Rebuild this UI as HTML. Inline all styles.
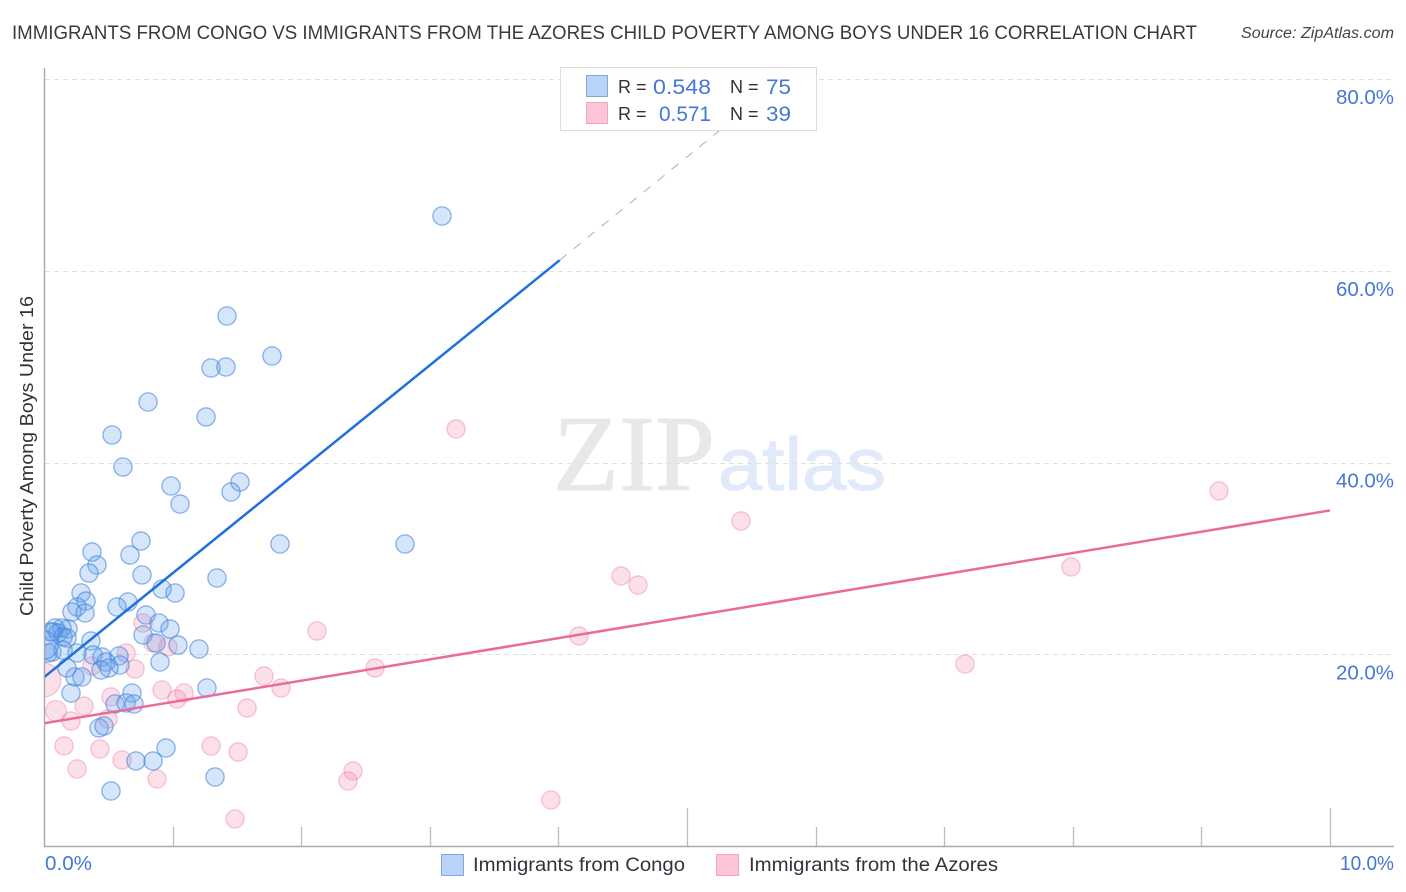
<!DOCTYPE html>
<html>
<head>
<meta charset="utf-8">
<title>Immigrants from Congo vs Immigrants from the Azores Child Poverty Correlation Chart</title>
<style>
html,body{margin:0;padding:0;background:#fff;width:1406px;height:892px;overflow:hidden}
svg{display:block}
text{font-family:"Liberation Sans",sans-serif}
</style>
</head>
<body>
<svg id="chart" xmlns="http://www.w3.org/2000/svg" width="1406" height="892" viewBox="0 0 1406 892">
  <defs>
    <clipPath id="plot-clip"><rect x="45" y="60" width="1349" height="786"/></clipPath>
  </defs>
  <rect width="1406" height="892" fill="#fff"/>
  <text x="12" y="39" font-size="19" fill="#3a3a3a" textLength="1185" lengthAdjust="spacingAndGlyphs">IMMIGRANTS FROM CONGO VS IMMIGRANTS FROM THE AZORES CHILD POVERTY AMONG BOYS UNDER 16 CORRELATION CHART</text>
  <text x="1241" y="38" font-size="15.5" font-style="italic" fill="#444" textLength="153" lengthAdjust="spacingAndGlyphs">Source: ZipAtlas.com</text>

  <g>
    <text x="553" y="490" font-size="108" fill="#e8e8e8" stroke="#e8e8e8" stroke-width="1" style="font-family:'Liberation Serif',serif" textLength="162" lengthAdjust="spacingAndGlyphs">ZIP</text>
    <text x="718" y="490" font-size="74" fill="#e1eafa" stroke="#e1eafa" stroke-width="1" textLength="168" lengthAdjust="spacingAndGlyphs">atlas</text>
  </g>

  <g id="grid"></g>
  <g id="ticks"></g>
  <line x1="44.5" y1="68" x2="44.5" y2="847" stroke="#aaa" stroke-width="1.5"/>
  <line x1="44" y1="846.5" x2="1394" y2="846.5" stroke="#aaa" stroke-width="1.5"/>

  <g id="points" clip-path="url(#plot-clip)"></g>
  <g id="trends" clip-path="url(#plot-clip)"></g>
  <g id="labels"></g>

  <text transform="translate(33,456) rotate(-90)" text-anchor="middle" font-size="18" fill="#333" textLength="320" lengthAdjust="spacingAndGlyphs">Child Poverty Among Boys Under 16</text>

  <g>
    <rect x="560.5" y="67.5" width="256" height="63" fill="#fff" fill-opacity="0.92" stroke="#ddd" stroke-width="1"/>
    <rect x="586.5" y="75.5" width="21" height="21" fill="#b9d4f8" stroke="#7fa8dc"/>
    <rect x="586.5" y="102.5" width="21" height="21" fill="#fcc5d8" stroke="#f2a3bd"/>
    <text x="618" y="93" font-size="18" fill="#333">R =</text>
    <text x="653" y="94" font-size="21" fill="#4478d4" textLength="58" lengthAdjust="spacingAndGlyphs">0.548</text>
    <text x="730" y="93" font-size="18" fill="#333">N =</text>
    <text x="766" y="94" font-size="21" fill="#4478d4" textLength="25" lengthAdjust="spacingAndGlyphs">75</text>
    <text x="618" y="120" font-size="18" fill="#333">R =</text>
    <text x="659" y="121" font-size="21" fill="#4478d4" textLength="52" lengthAdjust="spacingAndGlyphs">0.571</text>
    <text x="730" y="120" font-size="18" fill="#333">N =</text>
    <text x="766" y="121" font-size="21" fill="#4478d4" textLength="25" lengthAdjust="spacingAndGlyphs">39</text>
  </g>

  <g>
    <rect x="441.5" y="854.5" width="22" height="21" fill="#b9d4f8" stroke="#7fa8dc"/>
    <text x="473" y="871" font-size="19" fill="#33333f" textLength="212" lengthAdjust="spacingAndGlyphs">Immigrants from Congo</text>
    <rect x="716.5" y="854.5" width="22" height="21" fill="#fcc5d8" stroke="#f2a3bd"/>
    <text x="749" y="871" font-size="19" fill="#33333f" textLength="249" lengthAdjust="spacingAndGlyphs">Immigrants from the Azores</text>
  </g>
</svg>
<script>
const yTickValues = [20, 40, 60, 80];
const yTickLabels = ["20.0%", "40.0%", "60.0%", "80.0%"];
const xTickValues = [1, 2, 3, 4, 5, 6, 7, 8, 9, 10];
const xMajorTicks = [5, 10];
const xEndLabels = ["0.0%", "10.0%"];

const congoX = [3.095,1.423,1.773,1.299,1.415,0.809,1.260,0.529,0.614,0.988,1.524,1.454,1.058,1.835,2.807,0.754,0.373,0.669,0.412,0.350,0.762,1.345,0.918,1.019,0.288,0.327,0.257,0.653,0.568,0.218,0.319,0.793,0.894,0.980,0.770,0.365,1.042,0.871,1.205,0.187,0.140,0.086,0.109,0.070,0.148,0.047,0.179,0.062,0.148,0.031,0.000,0.257,0.381,0.451,0.583,0.482,0.591,0.505,0.443,0.902,0.179,0.241,0.295,0.210,0.684,1.267,0.552,0.638,0.700,0.428,0.467,0.949,0.848,0.715,1.330,0.521];
const congoY = [65.71,55.28,51.11,49.86,49.96,46.31,44.75,42.87,39.53,37.55,37.97,36.92,35.67,31.50,31.50,31.81,30.66,30.35,29.31,28.47,28.27,27.95,26.81,26.39,26.39,25.55,24.93,25.45,24.93,24.41,24.30,24.09,23.26,22.63,22.01,21.38,20.96,21.17,20.55,22.63,22.74,22.74,22.22,22.32,21.80,22.32,21.69,20.23,20.44,20.13,20.96,20.13,19.92,19.71,19.82,19.19,18.88,18.57,18.36,19.19,18.57,17.63,17.63,15.96,15.96,16.48,14.81,14.92,14.81,12.31,12.52,10.22,8.87,8.87,7.20,5.74];
const congoWeight = [1,1,1,1,1,1,1,1,1,1,1,1,1,1,1,1,1,1,1,1,1,1,1,1,1,1,1,1,1,1,1,1,1,1,1,1,1,1,1,1,1,1,1,1,1,1,1,1,1,1,2.4,1,1,1,1,1,1,1,1,1,1,1,1,1,1,1,1,1,1,1,1,1,1,1,1,1];

const azoresX = [3.204,9.137,5.420,4.487,4.619,7.986,2.123,4.160,0.770,0.848,0.964,0.638,7.162,2.574,0.373,0.708,1.711,1.843,0.000,0.918,1.089,1.034,0.521,0.093,0.311,1.579,0.498,0.210,0.156,0.435,1.299,1.509,0.607,0.257,0.879,2.403,2.364,3.942,1.485];
const azoresY = [43.49,37.03,33.90,28.16,27.22,29.10,22.43,21.90,23.26,21.17,20.76,20.13,18.98,18.57,18.77,18.46,17.73,16.48,17.31,16.27,15.96,15.33,15.54,14.08,14.60,14.39,13.25,13.04,10.43,10.12,10.43,9.80,8.97,8.03,6.99,7.82,6.78,4.80,2.82];
const azoresWeight = [1,1,1,1,1,1,1,1,1,1,1,1,1,1,1,1,1,1,3.4,1,1,1,1,1.3,1,1,1,1,1,1,1,1,1,1,1,1,1,1,1];

const congoTrendX = [0, 4.01];
const congoTrendY = [17.6, 61.1];
const congoTrendExtX = [4.01, 5.6];
const congoTrendExtY = [61.1, 78.4];
const azoresTrendX = [0, 10];
const azoresTrendY = [12.8, 35.0];

function xScale(v) { return 44 + v * 128.6; }
function yScale(v) { return 846 - v * 9.5875; }
function rScale(w) { return 9.1 * Math.sqrt(w); }

const NS = "http://www.w3.org/2000/svg";
function make(tag, attrs, parent) {
  const el = document.createElementNS(NS, tag);
  for (const k in attrs) el.setAttribute(k, attrs[k]);
  parent.appendChild(el);
  return el;
}

const gridG = document.getElementById("grid");
const ticksG = document.getElementById("ticks");
const labelsG = document.getElementById("labels");
const pointsG = document.getElementById("points");
const trendsG = document.getElementById("trends");

yTickValues.forEach(function (v, i) {
  const y = Math.round(yScale(v)) + 0.5;
  const line = make("line", {x1: 45, x2: 1394, y1: y, y2: y, stroke: "#e0e0e0", "stroke-width": 1, "stroke-dasharray": "5 4"}, gridG);
  
  
  const t = make("text", {x: 1394, y: yScale(v) + 25, "text-anchor": "end", "font-size": 20, fill: "#4478d4", textLength: 58, lengthAdjust: "spacingAndGlyphs"}, labelsG);
  
  
  t.textContent = yTickLabels[i];
});

xTickValues.forEach(function (v) {
  const x = Math.round(xScale(v)) + 0.5;
  const top = xMajorTicks.indexOf(v) >= 0 ? 808 : 827;
  const tick = make("line", {x1: x, x2: x, y1: top, y2: 846, stroke: "#bdbdbd", "stroke-width": 1.3}, ticksG);
  
  
});

const xLabel0 = make("text", {x: 45, y: 870, "font-size": 20, fill: "#4478d4", textLength: 47, lengthAdjust: "spacingAndGlyphs"}, labelsG);


xLabel0.textContent = xEndLabels[0];
const xLabel1 = make("text", {x: 1394, y: 870, "text-anchor": "end", "font-size": 20, fill: "#4478d4", textLength: 54, lengthAdjust: "spacingAndGlyphs"}, labelsG);


xLabel1.textContent = xEndLabels[1];

azoresX.forEach(function (v, i) {
  const c = make("circle", {cx: xScale(v), cy: yScale(azoresY[i]), r: rScale(azoresWeight[i]), fill: "#f48fb1", "fill-opacity": 0.28, stroke: "#ee7ea4", "stroke-opacity": 0.45, "stroke-width": 1.3}, pointsG);
  
  
});

congoX.forEach(function (v, i) {
  const c = make("circle", {cx: xScale(v), cy: yScale(congoY[i]), r: rScale(congoWeight[i]), fill: "#62a0ee", "fill-opacity": 0.27, stroke: "#3f82dc", "stroke-opacity": 0.6, "stroke-width": 1.3}, pointsG);
  
  
});

const lineExt = make("line", {x1: xScale(congoTrendExtX[0]), y1: yScale(congoTrendExtY[0]), x2: xScale(congoTrendExtX[1]), y2: yScale(congoTrendExtY[1]), stroke: "#9db2d6", "stroke-width": 1, "stroke-dasharray": "9 9"}, trendsG);


const lineCongo = make("line", {x1: xScale(congoTrendX[0]), y1: yScale(congoTrendY[0]), x2: xScale(congoTrendX[1]), y2: yScale(congoTrendY[1]), stroke: "#1f6fdc", "stroke-width": 2.5}, trendsG);


const lineAzores = make("line", {x1: xScale(azoresTrendX[0]), y1: yScale(azoresTrendY[0]), x2: xScale(azoresTrendX[1]), y2: yScale(azoresTrendY[1]), stroke: "#ea6b9b", "stroke-width": 2.5}, trendsG);


</script>
</body>
</html>
